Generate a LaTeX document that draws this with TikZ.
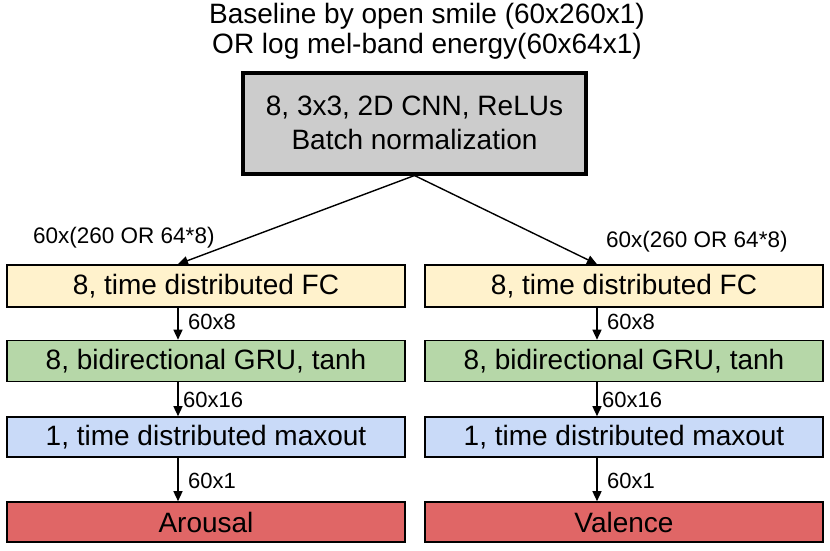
\documentclass[tikz,border=0pt]{standalone}
\usepackage{fontspec}
\setmainfont{Liberation Sans}
\usetikzlibrary{arrows.meta}
\definecolor{cgray}{HTML}{CCCCCC}
\definecolor{cyellow}{HTML}{FFF2CC}
\definecolor{cgreen}{HTML}{B6D7A8}
\definecolor{cblue}{HTML}{C9DAF8}
\definecolor{cred}{HTML}{E06666}
\begin{document}
\begin{tikzpicture}[x=1pt,y=-1pt,
  layerbox/.style={draw=black, line width=1.6pt, minimum width=398pt, inner sep=0pt,
    font=\fontsize{28}{31}\selectfont},
  cnnbox/.style={draw=black, line width=4pt, fill=cgray, minimum width=343pt, minimum height=101pt,
    inner sep=0pt, align=center, font=\fontsize{28}{34.5}\selectfont},
  arr/.style={line width=1.4pt, -{Triangle[length=10pt,width=9pt]}},
  lbl/.style={font=\fontsize{22}{24}\selectfont, inner sep=0pt, anchor=west},
  toplbl/.style={font=\fontsize{22.5}{26}\selectfont, inner sep=0pt}]
\useasboundingbox (0,0) rectangle (830,550);
\node[align=center, inner sep=0pt, font=\fontsize{28}{30}\selectfont] (title) at (427,31)
  {Baseline by open smile (60x260x1)\\OR log mel-band energy(60x64x1)};
\node[cnnbox] (cnn) at (414.5,123) {8, 3x3, 2D CNN, ReLUs\\Batch normalization};

\coordinate (xL) at (178,0);
\coordinate (xR) at (597,0);

\node[layerbox, fill=cyellow, minimum height=42pt] (fcL) at (206,286) {8, time distributed FC};
\node[layerbox, fill=cgreen, minimum height=41pt] (gruL) at (206,361) {8, bidirectional GRU, tanh};
\node[layerbox, fill=cblue, minimum height=40pt] (maxL) at (206,437) {1, time distributed maxout};
\node[layerbox, fill=cred, minimum height=40pt] (outL) at (206,522) {Arousal};

\node[layerbox, fill=cyellow, minimum height=42pt] (fcR) at (624,286) {8, time distributed FC};
\node[layerbox, fill=cgreen, minimum height=41pt] (gruR) at (624,361) {8, bidirectional GRU, tanh};
\node[layerbox, fill=cblue, minimum height=40pt] (maxR) at (624,437) {1, time distributed maxout};
\node[layerbox, fill=cred, minimum height=40pt] (outR) at (624,522) {Valence};

\draw[arr] (cnn.south) -- (fcL.north -| xL);
\draw[arr] (cnn.south) -- (fcR.north -| xR);
\node[toplbl, anchor=west] (l0L) at (33,238) {60x(260 OR 64*8)};
\node[toplbl, anchor=west] (l0R) at (606,242) {60x(260 OR 64*8)};

\draw[arr] (fcL.south -| xL) -- (gruL.north -| xL);
\draw[arr] (gruL.south -| xL) -- (maxL.north -| xL);
\draw[arr] (maxL.south -| xL) -- (outL.north -| xL);
\draw[arr] (fcR.south -| xR) -- (gruR.north -| xR);
\draw[arr] (gruR.south -| xR) -- (maxR.north -| xR);
\draw[arr] (maxR.south -| xR) -- (outR.north -| xR);

\node[lbl] (a1L) at (188,322) {60x8};
\node[lbl] (a2L) at (183,400) {60x16};
\node[lbl] (a3L) at (188,481) {60x1};
\node[lbl] (a1R) at (607,322) {60x8};
\node[lbl] (a2R) at (602,400) {60x16};
\node[lbl] (a3R) at (607,481) {60x1};
\end{tikzpicture}
\end{document}
